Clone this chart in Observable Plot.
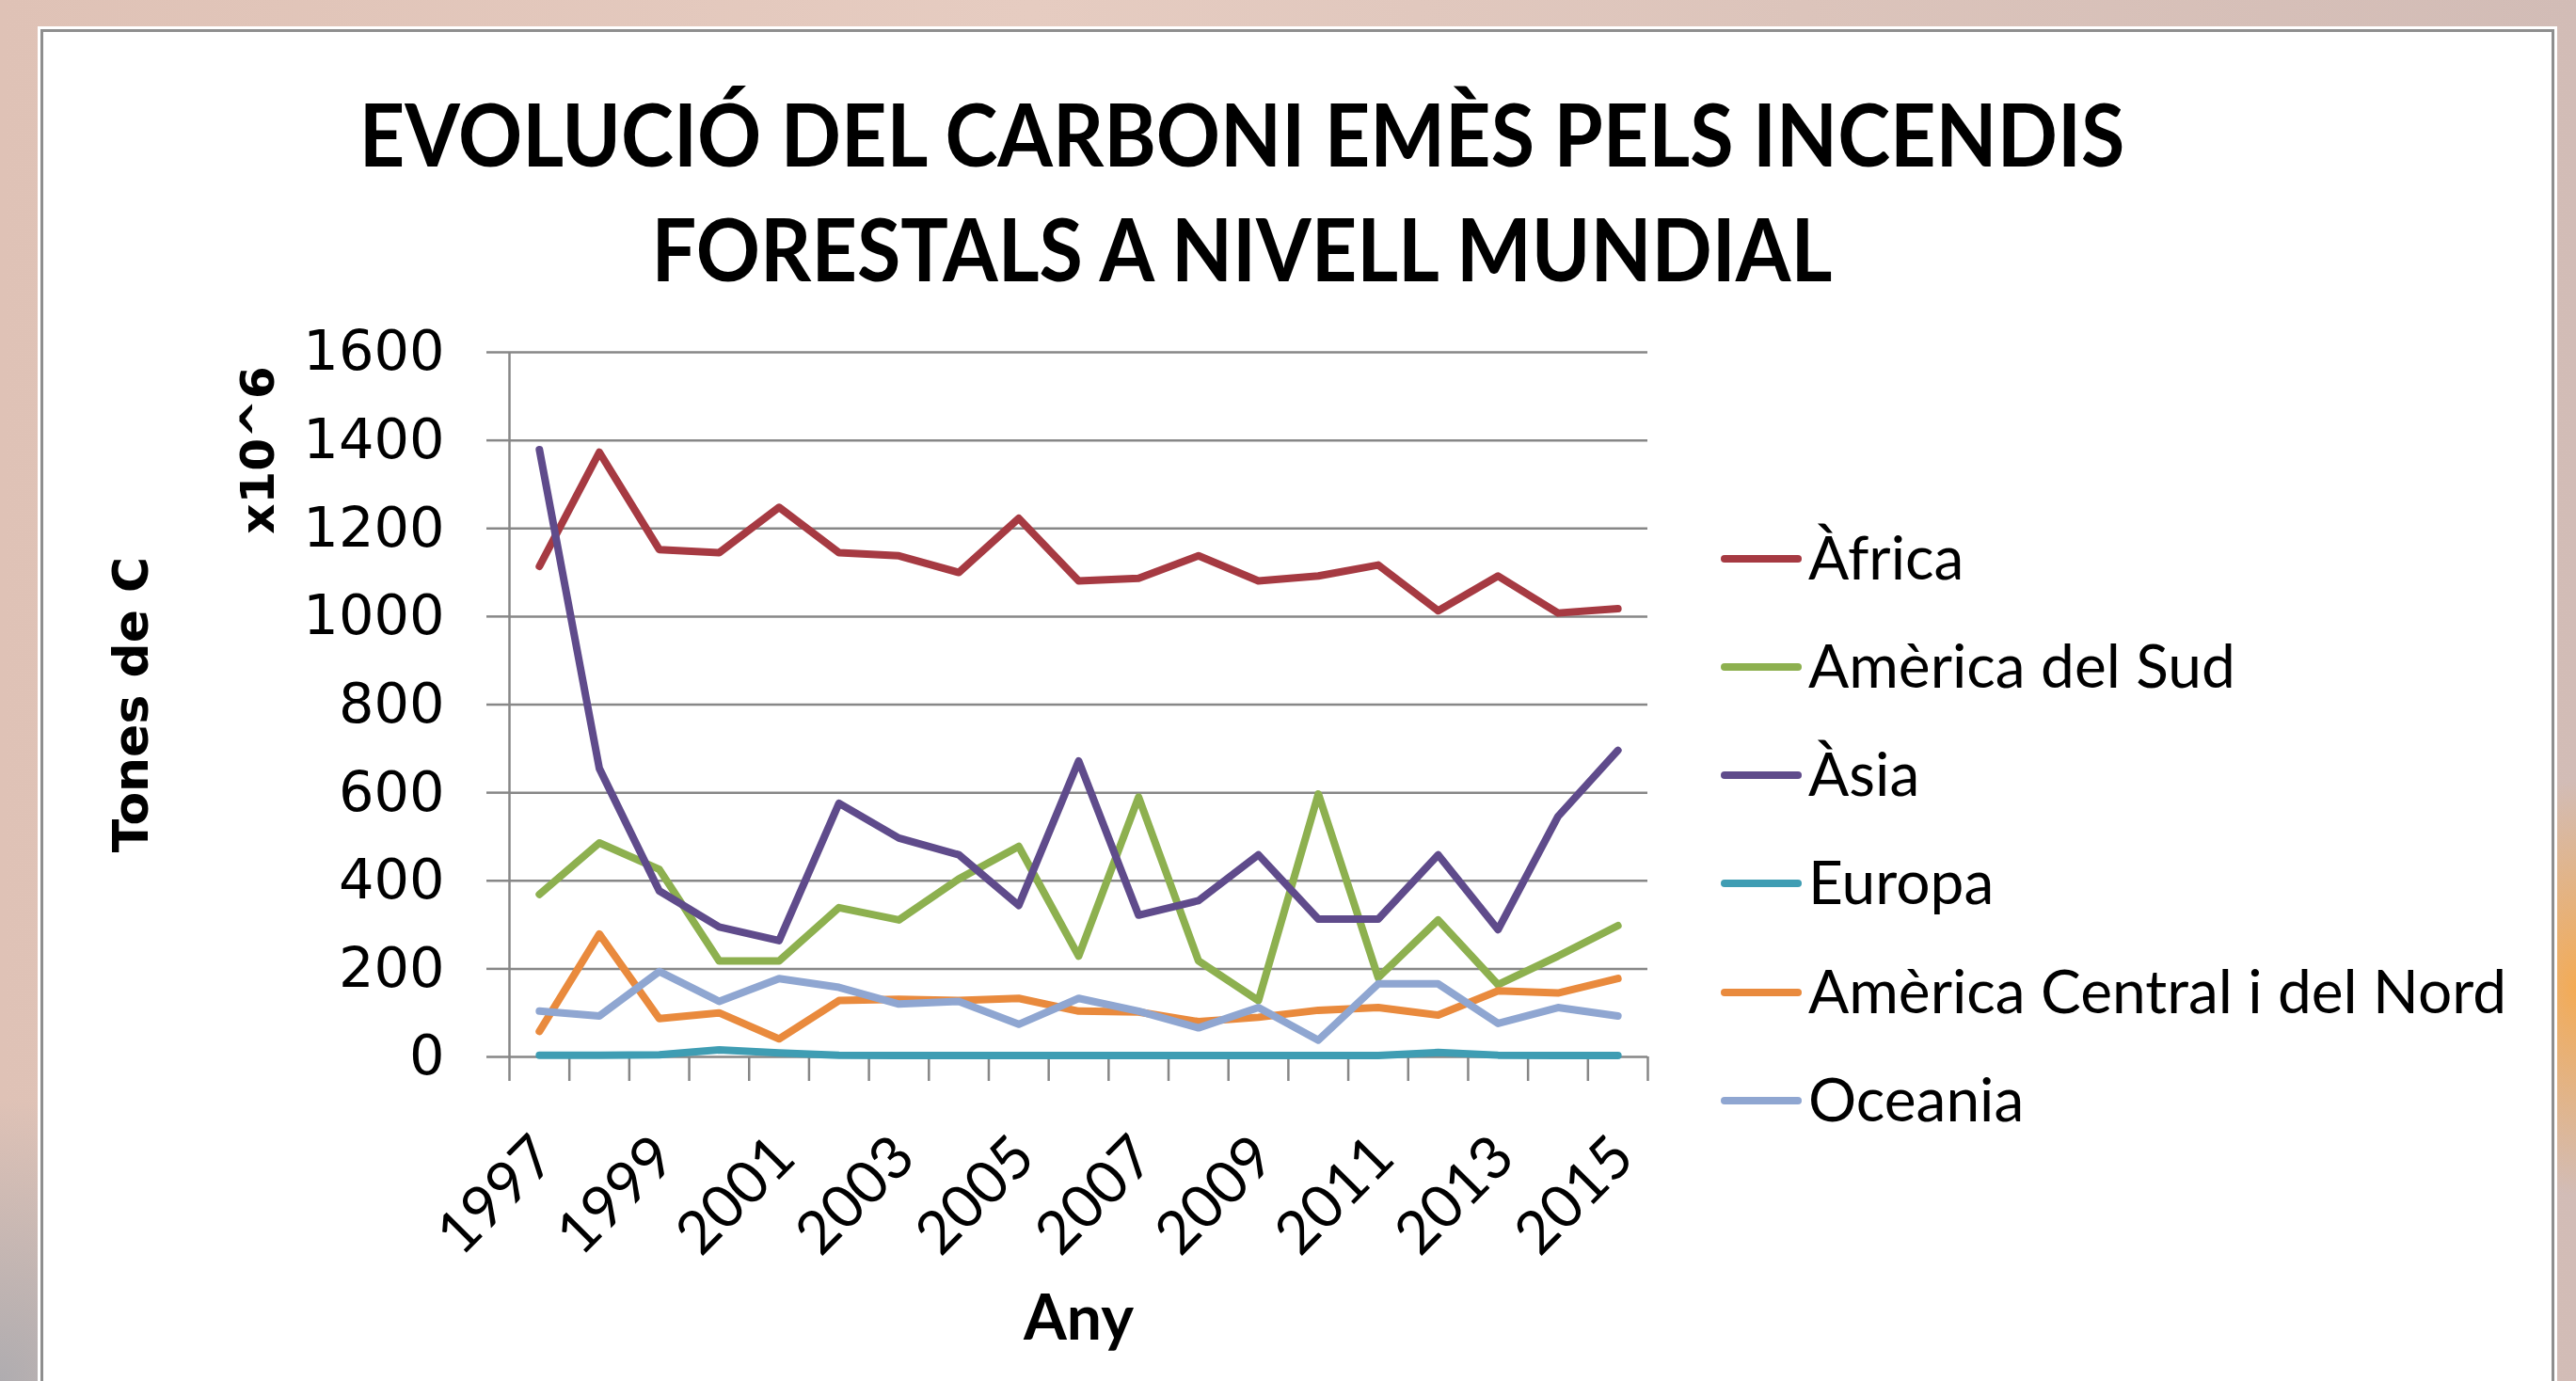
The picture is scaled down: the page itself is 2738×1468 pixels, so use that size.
<!DOCTYPE html>
<html>
<head>
<meta charset="utf-8">
<script src="https://cdn.jsdelivr.net/npm/d3@7"></script>
<script src="https://cdn.jsdelivr.net/npm/@observablehq/plot@0.6"></script>
<style>
  html, body { margin: 0; padding: 0; }
  body {
    width: 2738px; height: 1468px; overflow: hidden; position: relative;
    background:
      radial-gradient(ellipse 120px 220px at 100% 1050px, rgba(245,170,80,0.95) 0%, rgba(245,170,80,0) 100%),
      radial-gradient(ellipse 260px 300px at 0% 1468px, rgba(170,170,175,0.9) 0%, rgba(170,170,175,0) 100%),
      linear-gradient(to right, #DFC2B6 0%, #E6CCC1 40%, #DCC4BB 70%, #D2BCB6 100%);
  }
  #panel {
    position: absolute; left: 40px; top: 28px; width: 2672px; height: 1500px;
    background: #fff; border: 3px solid #fff; box-shadow: inset 0 0 0 3px #8e8e8e;
  }
  .title {
    position: absolute; left: 0; width: 2640px; text-align: center;
    font-family: Lato, sans-serif; font-weight: 700; font-size: 92px; line-height: 1; color: #000;
    white-space: nowrap; transform: scaleX(0.918); transform-origin: 1320px 50%;
  }
  #chart { position: absolute; left: 0; top: 330px; }
  .sw { position: absolute; height: 8px; width: 86px; border-radius: 4px; }
  .lt { position: absolute; font-family: Lato, sans-serif; font-size: 64px; line-height: 1; color: #000; white-space: nowrap; }
</style>
</head>
<body>
<div id="panel"></div>
<div class="title" style="top:96px">EVOLUCIÓ DEL CARBONI EMÈS PELS INCENDIS</div>
<div class="title" style="top:218px">FORESTALS A NIVELL MUNDIAL</div>
<div id="chart"></div>
<div id="legend"></div>
<script>
// ---- data ----
const years = [1997, 1998, 1999, 2000, 2001, 2002, 2003, 2004, 2005, 2006, 2007, 2008, 2009, 2010, 2011, 2012, 2013, 2014, 2015];
const regions = ["Àfrica", "Amèrica del Sud", "Àsia", "Europa", "Amèrica Central i del Nord", "Oceania"];
const africa    = [1114, 1373, 1152, 1145, 1248, 1145, 1138, 1100, 1223, 1081, 1087, 1138, 1081, 1092, 1117, 1013, 1092, 1008, 1018];
const amSud     = [369, 486, 426, 218, 218, 339, 311, 404, 478, 229, 590, 218, 128, 597, 180, 311, 164, 229, 298];
const asia      = [1379, 655, 377, 295, 264, 576, 497, 459, 344, 672, 322, 355, 459, 313, 313, 459, 289, 546, 696];
const europa    = [4, 4, 5, 16, 9, 4, 3, 3, 3, 3, 3, 3, 3, 3, 3, 10, 4, 3, 3];
const amCentral = [58, 279, 87, 100, 41, 128, 131, 128, 133, 104, 102, 80, 90, 106, 112, 95, 150, 145, 178];
const oceania   = [104, 93, 194, 126, 178, 158, 120, 126, 74, 133, 104, 66, 112, 38, 166, 166, 76, 112, 93];
const yTicks = [0, 200, 400, 600, 800, 1000, 1200, 1400, 1600];
const xLabelYears = [1997, 1999, 2001, 2003, 2005, 2007, 2009, 2011, 2013, 2015];
const colors = ["#A63A42", "#8DB04F", "#5F4B8B", "#3F9DB3", "#E98A3D", "#8FA6D1"];

const seriesValues = [africa, amSud, asia, europa, amCentral, oceania];
const data = regions.flatMap((r, i) => years.map((yr, j) => ({region: r, year: yr, value: seriesValues[i][j]})));
const boundaries = [...years.map(y => y - 0.5), years[years.length - 1] + 0.5];

const gridColor = "#878787";

const chart = Plot.plot({
  width: 1800, height: 1138,
  marginLeft: 541, marginRight: 49, marginTop: 44, marginBottom: 345,
  x: {type: "linear", domain: [years[0] - 0.5, years[years.length - 1] + 0.5], axis: null},
  y: {domain: [0, 1600], axis: null},
  color: {domain: regions, range: colors},
  style: {background: "transparent", overflow: "visible", fontFamily: "Lato, sans-serif", color: "#000"},
  marks: [
    Plot.gridY(yTicks, {stroke: gridColor, strokeOpacity: 1, strokeWidth: 2.5}),
    Plot.axisY(yTicks, {tickSize: 24, tickPadding: 45, stroke: gridColor, strokeWidth: 2.5, fill: "#000",
      fontSize: 59, fontFamily: "DejaVu Sans, sans-serif", label: null, tickFormat: d => String(d)}),
    Plot.ruleX([years[0] - 0.5], {stroke: gridColor, strokeWidth: 2.5}),
    Plot.axisX(boundaries, {tickSize: 26, tickFormat: () => "", stroke: gridColor, strokeWidth: 2.5, label: null}),
    Plot.axisX(xLabelYears, {tickSize: 0, tickRotate: -45, tickPadding: 96, textAnchor: "end", lineAnchor: "middle",
      dx: 6, tickFormat: d => String(d), fontSize: 63, fontFamily: "Lato, sans-serif", fill: "#000", label: null}),
    Plot.line(data, {x: "year", y: "value", z: "region", stroke: "region", strokeWidth: 8,
      strokeLinejoin: "round", strokeLinecap: "round"}),
    Plot.text(["Tones de C"], {frameAnchor: "left", dx: -401, rotate: -90, fontSize: 52, fontWeight: "bold",
      fontFamily: "DejaVu Sans, sans-serif", fill: "#000", textAnchor: "middle", lineAnchor: "middle"}),
    Plot.text(["x10^6"], {frameAnchor: "top-left", dx: -267, dy: 104, rotate: -90, fontSize: 50, fontWeight: "bold",
      fontFamily: "DejaVu Sans, sans-serif", fill: "#000", textAnchor: "middle", lineAnchor: "middle"}),
    Plot.text(["Any"], {frameAnchor: "bottom", dy: 300, fontSize: 66, fontWeight: "bold",
      fontFamily: "Lato, sans-serif", fill: "#000", textAnchor: "middle", lineAnchor: "bottom"})
  ]
});
document.getElementById("chart").appendChild(chart);

// ---- legend ----
const legendY = [594, 709, 824, 939, 1055, 1170];
const legend = document.getElementById("legend");
regions.forEach((r, i) => {
  const sw = document.createElement("div");
  sw.className = "sw";
  sw.style.left = "1829px";
  sw.style.top = (legendY[i] - 4) + "px";
  sw.style.background = colors[i];
  legend.appendChild(sw);
  const t = document.createElement("div");
  t.className = "lt";
  t.style.left = "1922px";
  t.style.top = (legendY[i] - 34) + "px";
  t.textContent = r;
  legend.appendChild(t);
});
</script>
</body>
</html>
